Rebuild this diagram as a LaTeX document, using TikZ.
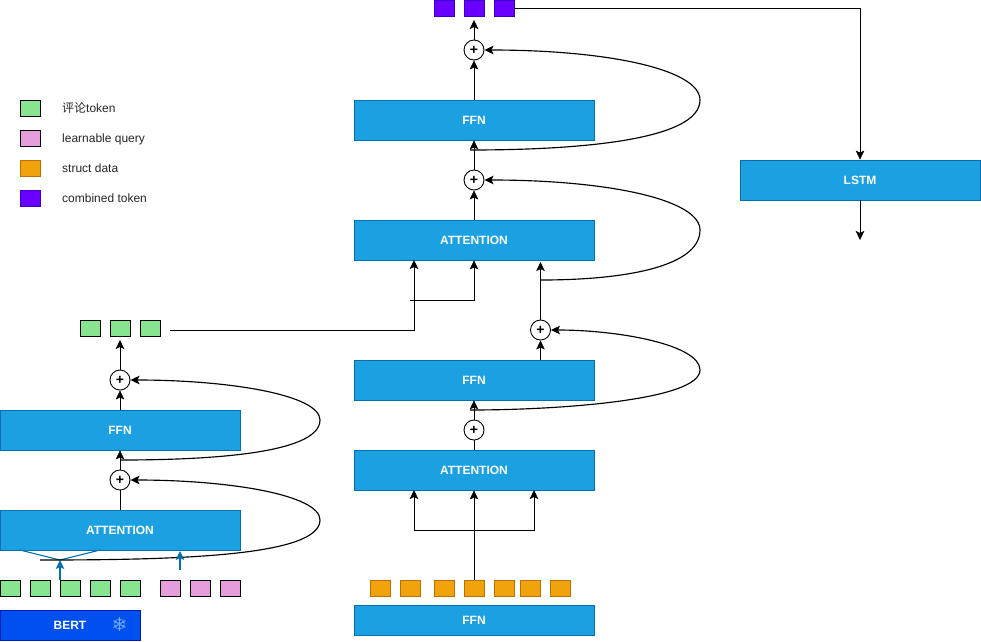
\documentclass[tikz,border=0pt]{standalone}
\usepackage{fontspec}
\setmainfont{Liberation Sans}
\newfontfamily\cjkfont{Noto Sans CJK SC}
\newfontfamily\symfont{DejaVu Sans}
\usetikzlibrary{arrows.meta,positioning}
\definecolor{boxfill}{HTML}{1BA1E2}
\definecolor{boxline}{HTML}{006EAF}
\definecolor{bertfill}{HTML}{0050EF}
\definecolor{bertline}{HTML}{001DBC}
\definecolor{greenfill}{HTML}{88E58F}
\definecolor{pinkfill}{HTML}{E59EDB}
\definecolor{orangefill}{HTML}{F0A30A}
\definecolor{orangeline}{HTML}{BD7000}
\definecolor{purplefill}{HTML}{6A00FF}
\definecolor{purpleline}{HTML}{3700CC}
\definecolor{snow}{HTML}{6FA8F5}
\tikzset{
  x=1pt,y=-1pt,
  line width=1pt,
  bigbox/.style={draw=boxline,fill=boxfill,text=white,font=\fontsize{12}{14}\selectfont\bfseries,minimum width=240pt,minimum height=40pt,inner sep=0pt,line width=0.8pt},
  token/.style={draw=black,minimum width=20pt,minimum height=16pt,inner sep=0pt,line width=0.9pt},
  gtok/.style={token,fill=greenfill},
  ptok/.style={token,fill=pinkfill},
  otok/.style={token,fill=orangefill,draw=orangeline},
  vtok/.style={token,fill=purplefill,draw=purpleline},
  plusnode/.style={circle,draw=black,fill=white,minimum size=20pt,inner sep=0pt,line width=0.9pt,font=\fontsize{14}{14}\selectfont\bfseries},
  arr/.style={draw=black,-{Stealth[length=9pt,width=8.5pt,inset=2pt]}},
  barr/.style={draw=boxline,line width=1.1pt,-{Stealth[length=9pt,width=8.5pt,inset=2pt]}},
  plain/.style={draw=black},
  curved/.style={arr,line width=1.15pt},
  legend/.style={anchor=west,inner sep=0pt,text=black!85,text height=9pt,text depth=3pt,font=\fontsize{12}{14}\selectfont},
}
\begin{document}
\begin{tikzpicture}
\useasboundingbox (0,0) rectangle (981,641);
% legend
\node[gtok] (lg1) at (30,108) {};
\node[ptok] (lg2) at (30,138) {};
\node[otok] (lg3) at (30,168) {};
\node[vtok] (lg4) at (30,198) {};
\node[legend] (lt1) at (62,109) {{\cjkfont 评论}token};
\node[legend] (lt2) at (62,139) {learnable query};
\node[legend] (lt3) at (62,169) {struct data};
\node[legend] (lt4) at (62,199) {combined token};
% left stack
\node[draw=bertline,fill=bertfill,minimum width=140pt,minimum height=30pt,inner sep=0pt,line width=0.8pt] (bert) at (70,625) {};
\node[text=white,font=\fontsize{12}{14}\selectfont\bfseries,inner sep=0pt] (berttxt) at (70,625) {BERT};
\node[text=snow,font=\symfont\fontsize{19}{19}\selectfont,inner sep=0pt] (snowf) at (119.5,625) {❄};
\node[gtok] (g1) at (10,588) {};
\node[gtok] (g2) at (40,588) {};
\node[gtok] (g3) at (70,588) {};
\node[gtok] (g4) at (100,588) {};
\node[gtok] (g5) at (130,588) {};
\node[ptok] (q1) at (170,588) {};
\node[ptok] (q2) at (200,588) {};
\node[ptok] (q3) at (230,588) {};
\node[bigbox] (attL) at (120,530) {ATTENTION};
\node[bigbox] (ffnL) at (120,430) {FFN};
\node[plusnode] (pL1) at (120,480) {+};
\node[plusnode] (pL2) at (120,380) {+};
\node[gtok] (t1) at (90,328) {};
\node[gtok] (t2) at (120,328) {};
\node[gtok] (t3) at (150,328) {};
% middle stack
\node[bigbox,minimum height=30pt] (ffnIn) at (474,620) {FFN};
\node[otok] (o1) at (380,588) {};
\node[otok] (o2) at (410,588) {};
\node[otok] (o3) at (444,588) {};
\node[otok] (o4) at (474,588) {};
\node[otok] (o5) at (504,588) {};
\node[otok] (o6) at (530,588) {};
\node[otok] (o7) at (560,588) {};
\node[bigbox] (attM1) at (474,470) {ATTENTION};
\node[plusnode] (pM1) at (474,430) {+};
\node[bigbox] (ffnM1) at (474,380) {FFN};
\node[plusnode] (pM2) at (540.5,330) {+};
\node[bigbox] (attM2) at (474,240) {ATTENTION};
\node[plusnode] (pM3) at (474,180) {+};
\node[bigbox] (ffnM2) at (474,120) {FFN};
\node[plusnode] (pM4) at (474,50) {+};
\node[vtok] (v1) at (444,8) {};
\node[vtok] (v2) at (474,8) {};
\node[vtok] (v3) at (504,8) {};
% right
\node[bigbox] (lstm) at (860,180) {LSTM};
% free-end coordinates
\coordinate (lqIn) at (60,580);
\coordinate (lqTip) at (60,560);
\coordinate (pqFrom) at (180,570);
\coordinate (pqTip) at (180,551);
\coordinate (aL) at (20,550);
\coordinate (aR) at (100,550);
\coordinate (cL1) at (40,560);
\coordinate (cL2) at (120,460);
\coordinate (cM1) at (470,410);
\coordinate (cM2) at (541,280);
\coordinate (cM3) at (470,150);
\coordinate (inJ) at (474,530);
\coordinate (tokEnd) at (170,330);
\coordinate (xLeft) at (414,260);
\coordinate (xStart) at (410,300);
\coordinate (lstmOut) at (860,240);
% left connectors
\draw[draw=boxline,line width=1.1pt] (aL) -- (lqTip) -- (aR);
\draw[curved] (cL1) .. controls (180,560) and (320,556) .. (320,520) .. controls (320,495) and (230,480) .. (pL1.east);
\draw[barr] (lqIn) -- (lqTip);
\draw[barr] (pqFrom) -- (pqTip);
\draw[plain] (attL.north) -- (pL1.south);
\draw[arr] (pL1.north) -- (ffnL.south);
\draw[arr] (ffnL.north) -- (pL2.south);
\draw[arr] (pL2.north) -- (120,340);
\draw[curved] (cL2) .. controls (200,460) and (320,455) .. (320,420) .. controls (320,395) and (230,380) .. (pL2.east);
% middle connectors
\draw[plain] (o4.north) -- (inJ);
\draw[arr] (inJ) -- (attM1.south);
\draw[arr] (inJ) -| (414,490);
\draw[arr] (inJ) -| (534,490);
\draw[plain] (attM1.north) -- (pM1.south);
\draw[arr] (pM1.north) -- (ffnM1.south);
\draw[curved] (cM1) .. controls (560,410) and (700,400) .. (700,370) .. controls (700,345) and (620,330) .. (pM2.east);
\draw[arr] (pM2.south |- ffnM1.north) -- (pM2.south);
\draw[arr] (pM2.north) -- (pM2.north |- 0,262);
\draw[curved] (cM2) .. controls (620,280) and (700,268) .. (700,230) .. controls (700,200) and (610,180) .. (pM3.east);
\draw[arr] (tokEnd) -| (xLeft);
\draw[arr] (xStart) -| (attM2.south);
\draw[arr] (attM2.north) -- (pM3.south);
\draw[arr] (pM3.north) -- (ffnM2.south);
\draw[arr] (ffnM2.north) -- (pM4.south);
\draw[curved] (cM3) .. controls (580,150) and (700,140) .. (700,100) .. controls (700,70) and (610,50) .. (pM4.east);
\draw[arr] (pM4.north) -- (474,20);
\draw[arr] (v3.east) -| (lstm.north);
\draw[arr] (lstm.south) -- (lstmOut);
\end{tikzpicture}
\end{document}
